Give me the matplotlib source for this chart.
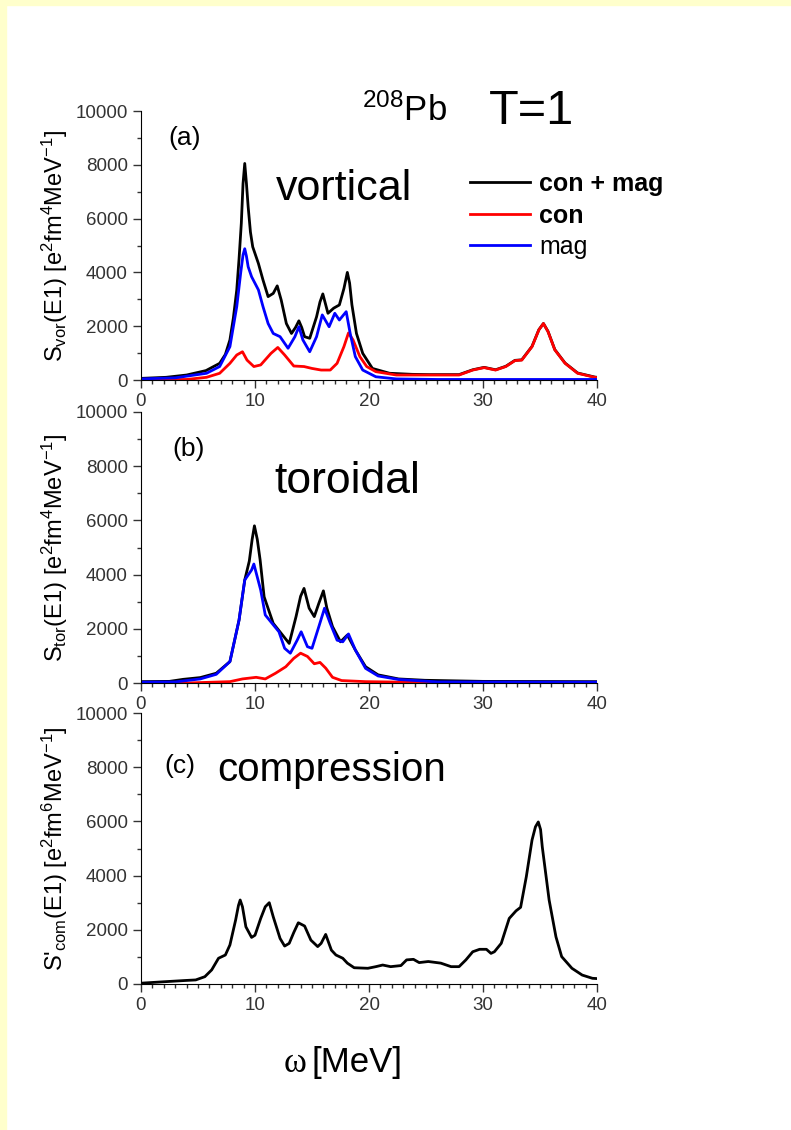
import numpy as np
import matplotlib
matplotlib.use("Agg")
import matplotlib.pyplot as plt
from matplotlib.patches import Rectangle
from matplotlib.ticker import MultipleLocator

plt.rcParams['font.family'] = ['Liberation Sans', 'DejaVu Sans']
plt.rcParams['mathtext.fontset'] = 'custom'
plt.rcParams['mathtext.rm'] = 'Liberation Sans'
plt.rcParams['mathtext.it'] = 'Liberation Sans:italic'

# (a) vortical strength
vor_tot_x = [0, 2.2, 4.0, 5.7, 6.9, 7.4, 7.8, 8.1, 8.4, 8.6, 8.8, 8.95, 9.1, 9.25, 9.4, 9.6, 9.8, 10.3, 10.7, 11.15,
             11.6, 11.95, 12.3, 12.75, 13.2, 13.55, 13.85, 14.1, 14.35, 14.8, 15.4, 15.7, 15.95, 16.2, 16.4, 16.9,
             17.4, 17.8, 18.1, 18.3, 18.5, 18.9, 19.45, 20.3, 21.8, 23.8, 25.3, 27.9, 29.1, 30.1, 31.1, 32.0,
             32.8, 33.4, 34.3, 34.9, 35.3, 35.7, 36.3, 37.2, 38.3, 39.8, 40]
vor_tot_y = [60, 100, 185, 350, 620, 950, 1490, 2300, 3350, 4500, 5830, 7300, 8050, 7300, 6440, 5500, 4950, 4330,
             3720, 3100, 3220, 3500, 2970, 2100, 1730, 1950, 2200, 1950, 1610, 1550, 2350, 2900, 3200, 2800, 2480,
             2670, 2790, 3400, 4000, 3600, 2800, 1730, 990, 430, 250, 210, 200, 200, 380, 470, 380, 510,
             730, 750, 1250, 1870, 2100, 1810, 1130, 630, 260, 110, 100]
vor_con_x = [0, 4.0, 5.75, 6.9, 7.8, 8.4, 8.9, 9.3, 9.9, 10.5, 11.4, 12.0, 12.6, 13.4, 14.3, 15.0, 15.8, 16.6, 17.2,
             17.8, 18.2, 18.6, 19.2, 19.8, 20.6, 22.4, 25.3, 27.9, 29.1, 30.1, 31.1, 32.0, 32.8, 33.4, 34.3, 34.9,
             35.3, 35.7, 36.3, 37.2, 38.3, 39.8, 40]
vor_con_y = [0, 20, 100, 250, 620, 930, 1050, 740, 500, 560, 990, 1210, 930, 520, 500, 430, 370, 370, 620,
             1240, 1750, 1490, 870, 500, 310, 185, 185, 185, 370, 460, 370, 500, 720, 740, 1240, 1860,
             2100, 1800, 1120, 620, 250, 100, 90]
vor_mag_x = [0, 3.0, 5.75, 6.9, 7.8, 8.4, 8.75, 8.95, 9.1, 9.25, 9.4, 9.7, 10.3, 10.7, 11.15, 11.6, 12.2, 12.9, 13.5,
             13.85, 14.2, 14.8, 15.4, 15.9, 16.5, 17.0, 17.4, 18.0, 18.35, 18.8, 19.45, 20.6, 22.4, 26.0, 40]
vor_mag_y = [40, 80, 250, 500, 1240, 2730, 4000, 4650, 4880, 4600, 4210, 3840, 3350, 2730, 2100, 1730, 1610, 1180,
             1610, 1980, 1490, 1050, 1610, 2420, 1980, 2480, 2230, 2540, 1730, 870, 370, 120, 40, 20, 20]

# (b) toroidal strength
tor_tot_x = [0, 2.5, 3.7, 5.2, 6.6, 7.8, 8.6, 9.1, 9.5, 9.75, 9.95, 10.2, 10.45, 10.8, 11.6, 12.3, 13.0, 13.6, 14.0,
             14.3, 14.75, 15.2, 15.6, 16.0, 16.3, 16.8, 17.5, 18.1, 18.8, 19.7, 20.8, 22.6, 24.9, 30.0, 40]
tor_tot_y = [50, 60, 135, 200, 360, 790, 2320, 3800, 4500, 5300, 5800, 5300, 4540, 3180, 2200, 1830, 1460, 2450,
             3200, 3490, 2760, 2450, 2940, 3400, 2770, 2080, 1520, 1770, 1220, 600, 300, 150, 100, 60, 50]
tor_con_x = [0, 4.0, 7.8, 8.9, 10.1, 10.9, 11.8, 12.7, 13.4, 14.0, 14.6, 15.2, 15.7, 16.2, 16.8, 17.6, 19.7, 25.0,
             36.0]
tor_con_y = [0, 0, 50, 150, 210, 150, 360, 600, 910, 1100, 980, 710, 760, 550, 210, 90, 50, 20, 20]
tor_mag_x = [0, 3.0, 5.2, 6.6, 7.8, 8.6, 9.1, 9.7, 9.9, 10.5, 10.9, 11.5, 12.1, 12.6, 13.1, 13.7, 14.05, 14.6, 15.0,
             15.6, 16.1, 16.6, 17.2, 17.7, 18.2, 18.8, 19.7, 20.8, 22.6, 26.0, 40]
tor_mag_y = [30, 40, 150, 320, 790, 2320, 3800, 4170, 4390, 3430, 2510, 2200, 1890, 1280, 1100, 1580, 1890, 1340, 1280,
             2080, 2760, 2200, 1580, 1520, 1810, 1220, 540, 260, 130, 40, 30]

# (c) compression strength
com_x = [0, 1.9, 3.9, 4.8, 5.6, 6.2, 6.8, 7.4, 7.8, 8.3, 8.55, 8.7, 8.9, 9.2, 9.7, 10.0, 10.5, 10.9, 11.25, 11.6,
         12.2, 12.6, 13.0, 13.4, 13.8, 14.35, 14.9, 15.5, 15.8, 16.2, 16.7, 17.1, 17.7, 18.1, 18.7, 19.9, 20.6,
         21.2, 21.9, 22.8, 23.3, 23.9, 24.4, 25.2, 26.3, 27.2, 27.9, 28.5, 29.1, 29.7, 30.3, 30.7, 31.0, 31.6,
         32.3, 32.9, 33.3, 33.8, 34.3, 34.6, 34.85, 35.05, 35.2, 35.8, 36.4, 36.9, 37.8, 38.7, 39.6, 40]
com_y = [30, 80, 130, 150, 270, 520, 950, 1070, 1440, 2360, 2900, 3100, 2850, 2110, 1720, 1800, 2420, 2850, 3000, 2480,
         1680, 1400, 1500, 1900, 2260, 2140, 1620, 1380, 1500, 1830, 1250, 1070, 950, 770, 600, 580, 640,
         700, 640, 680, 890, 910, 790, 830, 770, 640, 640, 890, 1190, 1280, 1280, 1130, 1190, 1500,
         2420, 2700, 2830, 3960, 5310, 5800, 5980, 5700, 5060, 3100, 1740, 1010, 580, 330, 210, 200]

fig = plt.figure(figsize=(7.91, 11.30), dpi=100)
fig.patches.append(Rectangle((0, 0), 6 / 791, 1, transform=fig.transFigure, color='#ffffcc', zorder=0))
fig.patches.append(Rectangle((0, 1 - 5 / 1130), 1, 5 / 1130, transform=fig.transFigure, color='#ffffcc', zorder=0))

left, width = 141 / 791, 456 / 791
tops = [111, 412, 713]
bottoms = [380, 683, 984]
axes = []
for t, b in zip(tops, bottoms):
    ax = fig.add_axes([left, 1 - b / 1130, width, (b - t) / 1130])
    ax.set_xlim(0, 40)
    ax.set_ylim(0, 10000)
    ax.spines['top'].set_visible(False)
    ax.spines['right'].set_visible(False)
    ax.xaxis.set_major_locator(MultipleLocator(10))
    ax.xaxis.set_minor_locator(MultipleLocator(1))
    ax.yaxis.set_major_locator(MultipleLocator(2000))
    ax.yaxis.set_minor_locator(MultipleLocator(1000))
    ax.tick_params(which='major', direction='out', length=6, width=1, labelsize=13.5, colors='#333333')
    ax.tick_params(which='minor', direction='out', length=3, width=1, colors='#333333')
    ax.patch.set_alpha(0)
    axes.append(ax)

ax_a, ax_b, ax_c = axes
lw = 2
ax_a.plot(vor_tot_x, vor_tot_y, color='black', lw=lw, label='con + mag')
ax_a.plot(vor_con_x, vor_con_y, color='red', lw=lw, label='con')
ax_a.plot(vor_mag_x, vor_mag_y, color='blue', lw=lw, label='mag')
leg = ax_a.legend(loc='upper left', bbox_to_anchor=(0.7, 0.81), frameon=False, fontsize=18,
                  handlelength=2.4, handletextpad=0.35, labelspacing=0.3, borderaxespad=0)
leg.get_texts()[0].set_fontweight('bold')
leg.get_texts()[1].set_fontweight('bold')

ax_b.plot(tor_tot_x, tor_tot_y, color='black', lw=lw)
ax_b.plot(tor_con_x, tor_con_y, color='red', lw=lw)
ax_b.plot(tor_mag_x, tor_mag_y, color='blue', lw=lw)

ax_c.plot(com_x, com_y, color='black', lw=lw)

ax_a.text(0.06, 0.9, '(a)', transform=ax_a.transAxes, fontsize=19, va='center')
ax_b.text(0.068, 0.865, '(b)', transform=ax_b.transAxes, fontsize=19, va='center')
ax_c.text(0.052, 0.805, '(c)', transform=ax_c.transAxes, fontsize=19, va='center')
ax_a.text(0.295, 0.71, 'vortical', transform=ax_a.transAxes, fontsize=31, va='center')
ax_b.text(0.293, 0.745, 'toroidal', transform=ax_b.transAxes, fontsize=32, va='center')
ax_c.text(0.168, 0.79, 'compression', transform=ax_c.transAxes, fontsize=29, va='center')

fig.text(362 / 791, 1 - 121 / 1130, r'$^{208}$Pb', fontsize=25, va='baseline')
fig.text(489 / 791, 1 - 124 / 1130, 'T=1', fontsize=35, va='baseline')

ax_a.set_ylabel(r'S$_{\rm vor}$(E1) [e$^2$fm$^4$MeV$^{-1}$]', fontsize=17, labelpad=4)
ax_b.set_ylabel(r'S$_{\rm tor}$(E1) [e$^2$fm$^4$MeV$^{-1}$]', fontsize=17, labelpad=4)
ax_c.set_ylabel(r"S'$_{\rm com}$(E1) [e$^2$fm$^6$MeV$^{-1}$]", fontsize=17, labelpad=4)

# x label: serif omega, sans unit
fig.text(284 / 791, 1 - 1072 / 1130, 'ω', fontsize=25, va='baseline', family=['Liberation Serif', 'DejaVu Serif'])
fig.text(312 / 791, 1 - 1072 / 1130, '[MeV]', fontsize=25, va='baseline')

fig.savefig('out.png', dpi=100)
